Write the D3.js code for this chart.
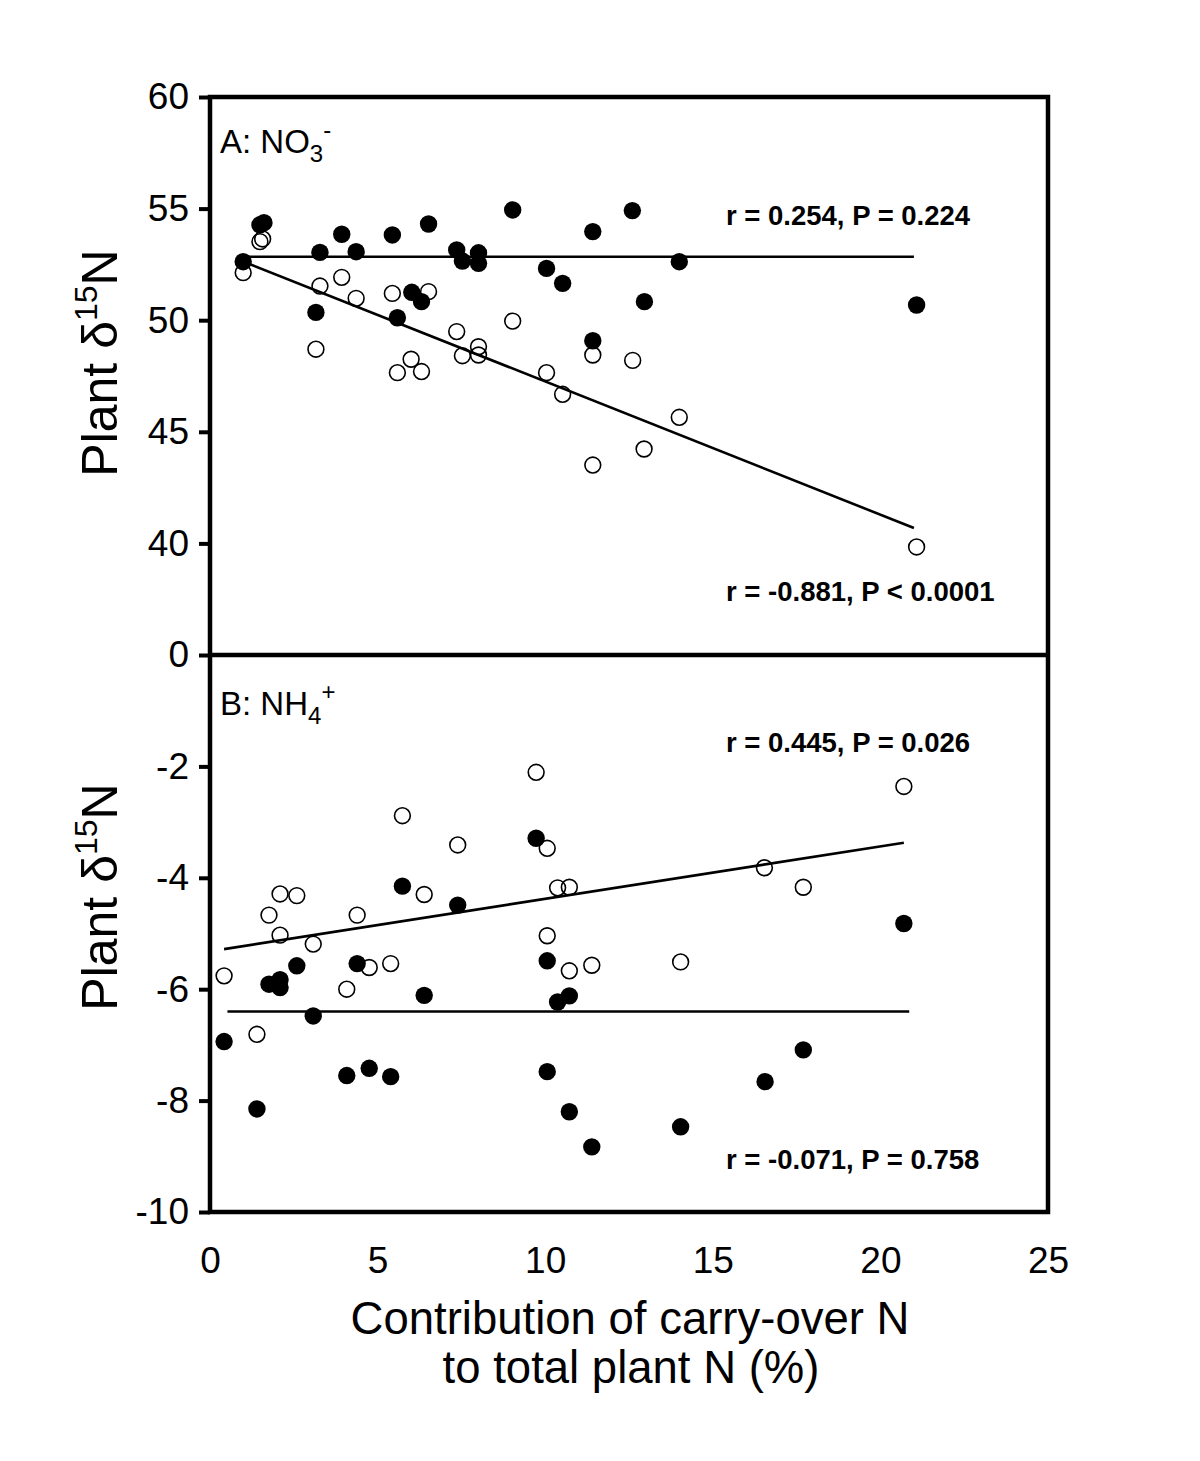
<!DOCTYPE html>
<html>
<head>
<meta charset="utf-8">
<script src="https://cdn.jsdelivr.net/npm/d3@7"></script>
<style>
  html, body { margin: 0; padding: 0; background: #fff; }
  svg { display: block; }
  text { font-family: "Liberation Sans", Arial, sans-serif; fill: #000; }
</style>
</head>
<body>
<svg id="chart" width="1200" height="1461"></svg>
<script>
// ---------------- DATA ----------------
const xTicks = [0, 5, 10, 15, 20, 25];
const yTicksA = [40, 45, 50, 55, 60];
const yTicksB = [0, -2, -4, -6, -8, -10];

// Panel A (NO3-) : filled and open symbols [x, y]
const aFilled = [
  [0.99, 52.62], [1.49, 54.27], [1.61, 54.37], [3.28, 53.04], [3.93, 53.85],
  [4.36, 53.07], [3.16, 50.35], [5.44, 53.82], [5.59, 50.11], [6.52, 54.31],
  [6.02, 51.25], [6.31, 50.83], [7.36, 53.15], [7.53, 52.65], [8.01, 53.02],
  [8.01, 52.55], [9.03, 54.94], [10.04, 52.32], [10.52, 51.65], [11.42, 53.97],
  [11.42, 49.08], [12.60, 54.91], [14.00, 52.62], [12.96, 50.83], [21.08, 50.68]
];
const aOpen = [
  [0.99, 52.13], [1.49, 53.52], [1.57, 53.64], [3.28, 51.53], [3.93, 51.92],
  [4.36, 50.98], [3.16, 48.70], [5.44, 51.20], [6.52, 51.28], [6.00, 48.25],
  [5.59, 47.65], [6.31, 47.70], [7.36, 49.49], [7.53, 48.41], [8.01, 48.81],
  [8.01, 48.44], [9.03, 49.96], [10.04, 47.65], [11.42, 48.44], [10.52, 46.68],
  [11.42, 43.51], [12.61, 48.20], [12.95, 44.23], [14.00, 45.65], [21.08, 39.84]
];
const aFilledFit = [[0.99, 52.84], [21.0, 52.84]];
const aOpenFit = [[0.99, 52.63], [21.0, 40.69]];

// Panel B (NH4+)
const bFilled = [
  [0.42, -6.94], [1.40, -8.15], [1.76, -5.91], [2.09, -5.83], [2.09, -5.97],
  [2.59, -5.58], [3.08, -6.48], [4.08, -7.55], [4.39, -5.54], [4.75, -7.42],
  [5.39, -7.57], [5.74, -4.15], [6.39, -6.11], [7.39, -4.49], [9.73, -3.29],
  [10.06, -5.49], [10.06, -7.48], [10.37, -6.23], [10.72, -6.12], [10.72, -8.20],
  [11.39, -8.83], [14.04, -8.47], [16.56, -7.66], [17.70, -7.09], [20.70, -4.82]
];
const bOpen = [
  [0.42, -5.76], [1.40, -6.81], [1.76, -4.67], [2.09, -4.29], [2.09, -5.03],
  [2.59, -4.32], [3.08, -5.19], [4.08, -6.00], [4.39, -4.67], [4.75, -5.61],
  [5.39, -5.54], [5.74, -2.885], [6.39, -4.30], [7.39, -3.41], [9.73, -2.106],
  [10.06, -3.47], [10.06, -5.04], [10.37, -4.18], [10.72, -4.17], [10.72, -5.67],
  [11.39, -5.57], [14.04, -5.51], [16.54, -3.82], [17.70, -4.17], [20.70, -2.36]
];
const bOpenFit = [[0.42, -5.28], [20.7, -3.37]];
const bFilledFit = [[0.52, -6.40], [20.86, -6.40]];

const statsA = ["r = 0.254, P = 0.224", "r = -0.881, P < 0.0001"];
const statsB = ["r = 0.445, P = 0.026", "r = -0.071, P = 0.758"];

// ---------------- LAYOUT ----------------
const svg = d3.select("#chart");
const L = 210, R = 1048, T = 97, MID = 655, B = 1212;

const x = d3.scaleLinear().domain([0, 25]).range([L, R]);
const yA = d3.scaleLinear().domain([35, 60]).range([MID, T]);
const yB = d3.scaleLinear().domain([-10, 0]).range([B, MID]);

function drawPanel(ys, filled, open, fits, ticks) {
  const g = svg.append("g");
  const line = d3.line().x(d => x(d[0])).y(d => ys(d[1]));
  fits.forEach(f => {
    g.append("path").attr("d", line(f))
      .attr("fill", "none").attr("stroke", "#000").attr("stroke-width", 2.6);
  });
  g.selectAll("circle.open").data(open).enter().append("circle")
    .attr("class", "open")
    .attr("cx", d => x(d[0])).attr("cy", d => ys(d[1])).attr("r", 7.9)
    .attr("fill", "none")
    .attr("stroke", "#000").attr("stroke-width", 1.6);
  g.selectAll("circle.filled").data(filled).enter().append("circle")
    .attr("class", "filled")
    .attr("cx", d => x(d[0])).attr("cy", d => ys(d[1])).attr("r", 8.7)
    .attr("fill", "#000");
  const ax = svg.append("g").attr("transform", `translate(${L},0)`)
    .call(d3.axisLeft(ys).tickValues(ticks).tickSize(11).tickPadding(10).tickFormat(d => String(d)));
  ax.select(".domain").remove();
  ax.selectAll(".tick line").attr("stroke", "#000").attr("stroke-width", 4);
  ax.selectAll(".tick text").attr("font-size", 37).attr("fill", "#000")
    .style("font-family", "'Liberation Sans', Arial, sans-serif");
}

drawPanel(yA, aFilled, aOpen, [aFilledFit, aOpenFit], yTicksA);
drawPanel(yB, bFilled, bOpen, [bOpenFit, bFilledFit], yTicksB);

// frame
svg.append("rect").attr("x", L).attr("y", T).attr("width", R - L).attr("height", B - T)
  .attr("fill", "none").attr("stroke", "#000").attr("stroke-width", 4.5);
svg.append("line").attr("x1", L).attr("x2", R).attr("y1", MID).attr("y2", MID)
  .attr("stroke", "#000").attr("stroke-width", 4.5);

// x axis labels (no tick marks)
const xa = svg.append("g").attr("transform", `translate(0,${B})`)
  .call(d3.axisBottom(x).tickValues(xTicks).tickSize(0).tickPadding(35));
xa.select(".domain").remove();
xa.selectAll(".tick text").attr("font-size", 37).attr("fill", "#000")
  .style("font-family", "'Liberation Sans', Arial, sans-serif");

// panel labels
const pa = svg.append("text").attr("x", 220).attr("y", 153).attr("font-size", 33);
pa.append("tspan").text("A: NO");
pa.append("tspan").text("3").attr("font-size", 24).attr("dy", 9);
pa.append("tspan").text("-").attr("font-size", 24).attr("dy", -24);

const pb = svg.append("text").attr("x", 220).attr("y", 715).attr("font-size", 33);
pb.append("tspan").text("B: NH");
pb.append("tspan").text("4").attr("font-size", 24).attr("dy", 9);
pb.append("tspan").text("+").attr("font-size", 24).attr("dy", -24);

// stats
function stat(txt, xx, yy) {
  svg.append("text").attr("x", xx).attr("y", yy).attr("font-size", 27.5)
    .attr("font-weight", "bold").text(txt);
}
stat(statsA[0], 726, 225);
stat(statsA[1], 726, 601);
stat(statsB[0], 726, 752);
stat(statsB[1], 726, 1169);

// y-axis titles
function yTitle(cy) {
  const t = svg.append("text")
    .attr("transform", `translate(117,${cy}) rotate(-90)`)
    .attr("text-anchor", "middle").attr("font-size", 50);
  t.append("tspan").text("Plant \u03B4");
  t.append("tspan").text("15").attr("font-size", 32).attr("dy", -20);
  t.append("tspan").text("N").attr("dy", 20);
}
yTitle(363);
yTitle(897);

// x-axis title
svg.append("text").attr("text-anchor", "middle").attr("font-size", 45.5)
  .attr("x", 630).attr("y", 1334).text("Contribution of carry-over N");
svg.append("text").attr("text-anchor", "middle").attr("font-size", 45.5)
  .attr("x", 631).attr("y", 1383).text("to total plant N (%)");
</script>
</body>
</html>
